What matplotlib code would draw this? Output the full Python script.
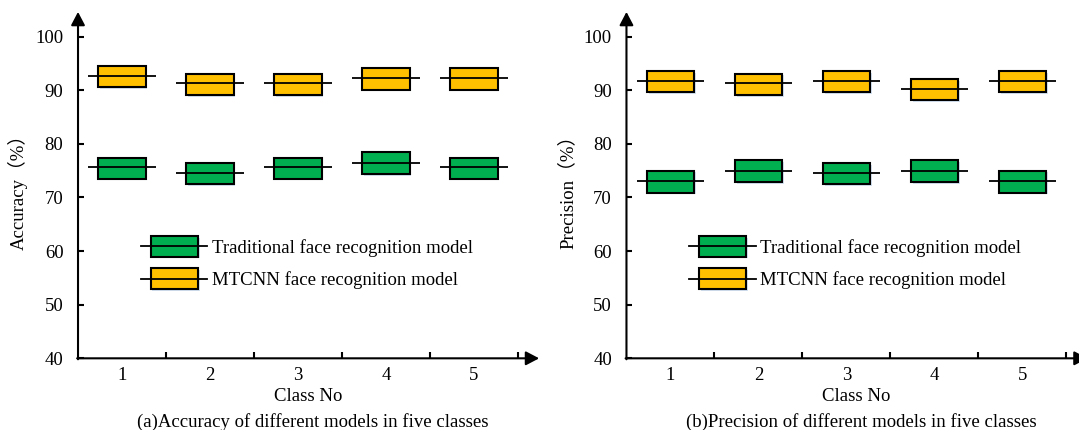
import numpy as np
import matplotlib
matplotlib.use("Agg")
import matplotlib.pyplot as plt
from matplotlib.patches import Rectangle
from matplotlib.lines import Line2D
from matplotlib.legend_handler import HandlerBase
import matplotlib.patheffects as pe

plt.rcParams["font.family"] = ["Liberation Serif", "Noto Sans CJK SC"]
FS = 13.5
plt.rcParams["font.size"] = FS

classes = [1, 2, 3, 4, 5]
series_names = ["Traditional face recognition model", "MTCNN face recognition model"]
series_colors = ["#00B050", "#FFC000"]

# accuracy (%) -- box low / high and middle line
acc_trad_low = [73.5, 72.5, 73.5, 74.4, 73.5]
acc_trad_high = [77.4, 76.4, 77.4, 78.4, 77.4]
acc_trad_mid = [75.6, 74.6, 75.6, 76.5, 75.6]
acc_mtcnn_low = [90.6, 89.1, 89.1, 90.1, 90.1]
acc_mtcnn_high = [94.6, 93.1, 93.1, 94.1, 94.1]
acc_mtcnn_mid = [92.7, 91.3, 91.3, 92.2, 92.2]

# precision (%)
prec_trad_low = [70.9, 72.9, 72.5, 72.9, 70.9]
prec_trad_high = [75.0, 77.0, 76.4, 77.0, 75.0]
prec_trad_mid = [73.0, 75.0, 74.6, 75.0, 73.0]
prec_mtcnn_low = [89.7, 89.1, 89.7, 88.2, 89.7]
prec_mtcnn_high = [93.6, 93.1, 93.6, 92.1, 93.6]
prec_mtcnn_mid = [91.8, 91.3, 91.8, 90.3, 91.8]

y_ticks = [40, 50, 60, 70, 80, 90, 100]

BOX_W = 0.535
LINE_W = 0.77
shadow = [pe.SimplePatchShadow(offset=(1.2, -1.2), shadow_rgbFace="#a9c4e4", alpha=0.5), pe.Normal()]


class BoxLineHandler(HandlerBase):
    def create_artists(self, legend, orig_handle, xdescent, ydescent, width, height, fontsize, trans):
        bw = width * 0.71
        x0 = -xdescent
        y0 = -ydescent
        rect = Rectangle((x0 + (width - bw) / 2, y0), bw, height,
                         facecolor=orig_handle.get_facecolor(), edgecolor="black",
                         linewidth=1.5, transform=trans)
        rect.set_path_effects(shadow)
        line = Line2D([x0, x0 + width], [y0 + height / 2, y0 + height / 2],
                      color="black", linewidth=1.3, transform=trans)
        return [rect, line]


def draw_panel(ax, series, ylabel, caption):
    x = np.array(classes, dtype=float)
    handles = []
    for (low, high, mid), color, name in zip(series, series_colors, series_names):
        low = np.array(low)
        high = np.array(high)
        bars = ax.bar(x, high - low, bottom=low, width=BOX_W, color=color,
                      edgecolor="black", linewidth=1.5, zorder=3)
        for b in bars:
            b.set_path_effects(shadow)
        ax.hlines(mid, x - LINE_W / 2, x + LINE_W / 2, color="black", linewidth=1.3, zorder=4)
        handles.append(Rectangle((0, 0), 1, 1, facecolor=color, label=name))

    ax.set_xlim(0.5, 5.5)
    ax.set_ylim(40, 100)
    for s in ax.spines.values():
        s.set_visible(False)

    ax.set_yticks(y_ticks)
    ax.tick_params(axis="y", direction="in", length=4.5, width=1.5, pad=10.5, labelsize=FS)
    ax.set_xticks([1.5, 2.5, 3.5, 4.5, 5.5])
    ax.set_xticklabels([])
    ax.set_xticks(classes, minor=True)
    ax.set_xticklabels([str(c) for c in classes], minor=True)
    ax.tick_params(axis="x", which="major", direction="in", length=4.5, width=1.5)
    ax.tick_params(axis="x", which="minor", length=0, pad=6, labelsize=FS)

    # axis lines with arrow heads
    arrow = dict(arrowstyle="-|>,head_length=0.8,head_width=0.42", color="black",
                 lw=1.5, shrinkA=0, shrinkB=0, mutation_scale=10)
    ax.annotate("", xy=(0, 1.077), xytext=(0, -0.003), xycoords="axes fraction",
                arrowprops=arrow, annotation_clip=False)
    ax.annotate("", xy=(1.048, 0), xytext=(-0.002, 0), xycoords="axes fraction",
                arrowprops=arrow, annotation_clip=False)

    ax.set_ylabel(ylabel, fontsize=FS)
    ax.yaxis.set_label_coords(-0.114, 0.53)
    ax.set_xlabel("Class No", fontsize=FS)
    ax.xaxis.set_label_coords(0.523, -0.093)
    ax.text(0.534, -0.198, caption, transform=ax.transAxes, ha="center", va="center", fontsize=FS)

    ax.legend(handles, series_names, handler_map={Rectangle: BoxLineHandler()},
              loc="upper left", bbox_to_anchor=(0.143, 0.38), frameon=False,
              handlelength=3.55, handleheight=1.31, handletextpad=0.22,
              labelspacing=0.62, borderpad=0, borderaxespad=0, fontsize=FS)


fig = plt.figure(figsize=(10.79, 4.30), dpi=100)
ax1 = fig.add_axes([0.0723, 0.1667, 0.4078, 0.748])
ax2 = fig.add_axes([0.5806, 0.1667, 0.4078, 0.748])

draw_panel(ax1,
           [(acc_trad_low, acc_trad_high, acc_trad_mid), (acc_mtcnn_low, acc_mtcnn_high, acc_mtcnn_mid)],
           "Accuracy（%）", "(a)Accuracy of different models in five classes")
draw_panel(ax2,
           [(prec_trad_low, prec_trad_high, prec_trad_mid), (prec_mtcnn_low, prec_mtcnn_high, prec_mtcnn_mid)],
           "Precision（%）", "(b)Precision of different models in five classes")

fig.savefig("out.png", dpi=100)
